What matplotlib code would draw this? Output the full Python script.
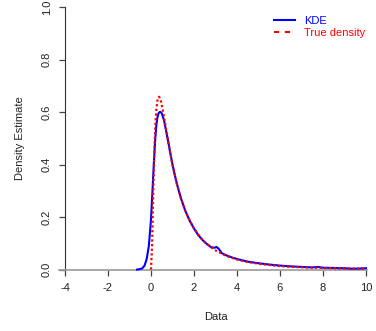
import matplotlib.pyplot as plt
from matplotlib.lines import Line2D

plt.rcParams['font.family'] = ['Liberation Sans', 'DejaVu Sans']

# KDE estimate (blue)
kde_x = [-0.65, -0.5, -0.4, -0.3, -0.2, -0.1, 0.0, 0.05, 0.1, 0.15, 0.2, 0.25, 0.3,
         0.35, 0.4, 0.45, 0.5, 0.6, 0.7, 0.8, 0.9, 1.0, 1.1, 1.2, 1.3, 1.4, 1.5, 1.6,
         1.8, 2.0, 2.2, 2.4, 2.6, 2.8, 2.95, 3.05, 3.15, 3.3, 3.5, 3.8, 4.1, 4.5, 5.0,
         5.5, 6.0, 6.5, 7.0, 7.5, 7.75, 8.0, 8.5, 9.0, 9.4, 9.7, 10.0]
kde_y = [0.0, 0.002, 0.005, 0.015, 0.04, 0.09, 0.19, 0.27, 0.35, 0.43, 0.50, 0.55, 0.58,
         0.595, 0.60, 0.60, 0.595, 0.57, 0.53, 0.488, 0.443, 0.40, 0.363, 0.328, 0.298, 0.27,
         0.246, 0.223, 0.186, 0.156, 0.131, 0.112, 0.097, 0.085, 0.083, 0.086, 0.079, 0.062,
         0.054, 0.045, 0.038, 0.030, 0.024, 0.019, 0.015, 0.012, 0.010, 0.008, 0.010, 0.007,
         0.006, 0.005, 0.003, 0.004, 0.005]

# true density (red dotted)
true_x = [0.0, 0.05, 0.1, 0.15, 0.2, 0.25, 0.3, 0.33, 0.37, 0.4, 0.45, 0.5, 0.6, 0.7, 0.8,
          0.9, 1.0, 1.2, 1.4, 1.6, 1.8, 2.0, 2.3, 2.6, 3.0, 3.5, 4.0, 4.5, 5.0, 6.0, 7.0,
          8.0, 9.0, 10.0]
true_y = [0.0, 0.09, 0.28, 0.44, 0.546, 0.61, 0.644, 0.652, 0.658, 0.655, 0.647, 0.627,
          0.584, 0.535, 0.486, 0.441, 0.399, 0.327, 0.269, 0.223, 0.187, 0.157, 0.122,
          0.097, 0.073, 0.052, 0.038, 0.029, 0.022, 0.013, 0.0086, 0.0057, 0.004, 0.0028]

xticks = [-4, -2, 0, 2, 4, 6, 8, 10]
yticks = [0.0, 0.2, 0.4, 0.6, 0.8, 1.0]

fig = plt.figure(figsize=(3.76, 3.31), dpi=100)
ax = fig.add_axes([0.1557, 0.1619, 0.8348, 0.8328])

ax.plot(kde_x, kde_y, color='blue', lw=1.5, zorder=3)
ax.plot(true_x, true_y, color='red', lw=1.6, linestyle=(0, (1, 1.1)), zorder=4)

ax.set_xlim(-4.3, 10.3)
ax.set_ylim(-0.03, 1.02)

for s in ['top', 'right']:
    ax.spines[s].set_visible(False)
ax.spines['left'].set_position(('data', -4))
ax.spines['left'].set_bounds(0, 1)
ax.spines['left'].set_color('#333333')
ax.spines['bottom'].set_position(('data', 0))
ax.spines['bottom'].set_bounds(-4.28, 10.05)
ax.spines['bottom'].set_color('#9a9a9a')
ax.spines['bottom'].set_linewidth(1.2)

ax.set_xticks(xticks)
ax.set_xticklabels([str(t) for t in xticks])
ax.set_yticks(yticks)
ax.set_yticklabels(['%.1f' % t for t in yticks])
ax.tick_params(axis='both', direction='out', length=4.5, width=0.9, color='#444444',
               labelsize=8, labelcolor='#222222', pad=5)
ax.tick_params(axis='y', labelrotation=90)
for lab in ax.get_yticklabels():
    lab.set_va('center')

fig.text(20 / 376, 1 - 138 / 331, 'Density Estimate', rotation=90, ha='center', va='center',
         fontsize=8, color='#222222')
fig.text(216 / 376, 1 - 317 / 331, 'Data', ha='center', va='center', fontsize=8,
         color='#222222')

handles = [Line2D([], [], color='blue', lw=1.5),
           Line2D([], [], color='red', lw=1.5, linestyle=(0, (2.5, 2.7)))]
fig.legend(handles, ['KDE', 'True density'], loc='upper left',
           bbox_to_anchor=(274 / 376, 1 - 16 / 331), frameon=False, fontsize=8,
           handlelength=1.9, handletextpad=0.8, labelspacing=0.2, borderpad=0,
           borderaxespad=0, labelcolor='linecolor')

fig.savefig('out.png', dpi=100)
